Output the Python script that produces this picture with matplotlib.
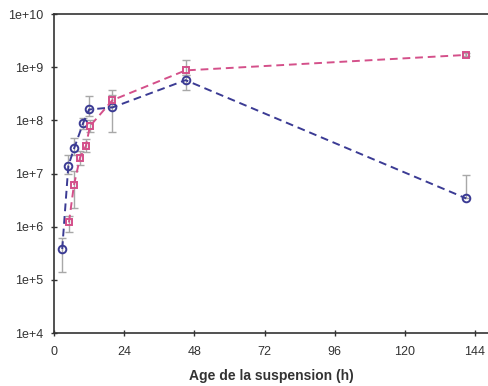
import matplotlib
matplotlib.use("Agg")
import matplotlib.pyplot as plt
import numpy as np
from matplotlib.ticker import FixedLocator, FuncFormatter

plt.rcParams["font.family"] = ["Liberation Sans", "DejaVu Sans"]

# Suspension age (h) and cell counts, two conditions
blue_t    = [2.8, 4.9, 6.9, 10.0, 12.0, 20.0, 45.0, 141.0]
blue_val  = [3.8e5, 1.4e7, 3.0e7, 9.0e7, 1.6e8, 1.75e8, 5.7e8, 3.4e6]
blue_lo   = [1.4e5, 1.0e7, 2.2e7, 7.0e7, 1.2e8, 6.0e7, 3.8e8, 3.4e6]
blue_hi   = [6.0e5, 2.2e7, 4.7e7, 1.1e8, 2.9e8, 3.8e8, 7.0e8, 9.4e6]

pink_t    = [5.1, 6.8, 8.9, 10.9, 12.3, 20.0, 45.0, 141.0]
pink_val  = [1.2e6, 6.0e6, 2.0e7, 3.3e7, 7.8e7, 2.4e8, 8.7e8, 1.7e9]
pink_lo   = [0.8e6, 2.2e6, 1.45e7, 2.5e7, 6.0e7, 1.9e8, 7.0e8, 1.6e9]
pink_hi   = [1.6e6, 1.1e7, 2.6e7, 4.5e7, 1.0e8, 3.0e8, 1.35e9, 1.85e9]

x_ticks = [0, 24, 48, 72, 96, 120, 144]
y_ticks = [1e4, 1e5, 1e6, 1e7, 1e8, 1e9, 1e10]

blue = "#3b3b94"
pink = "#d4508a"
grey = "#a8a8a8"

fig = plt.figure(figsize=(4.88, 3.86), dpi=100)
ax = fig.add_axes([0.1107, 0.1373, 0.889, 0.8264])

for t, v, lo, hi, color, marker, ms in [
    (blue_t, blue_val, blue_lo, blue_hi, blue, "o", 5.5),
    (pink_t, pink_val, pink_lo, pink_hi, pink, "s", 4.8),
]:
    v = np.array(v)
    yerr = [v - np.array(lo), np.array(hi) - v]
    ax.errorbar(t, v, yerr=yerr, fmt="none", ecolor=grey, elinewidth=1.0,
                capsize=3, capthick=1.0, zorder=1)
    ax.plot(t, v, linestyle=(0, (4, 2.5)), color=color, linewidth=1.4,
            marker=marker, markersize=ms, markerfacecolor="none",
            markeredgecolor=color, markeredgewidth=1.4, zorder=2)

ax.set_yscale("log")
ax.set_xlim(0, 148.4)
ax.set_ylim(1e4, 1e10)
ax.xaxis.set_major_locator(FixedLocator(x_ticks))
ax.yaxis.set_major_locator(FixedLocator(y_ticks))
ax.yaxis.set_minor_locator(FixedLocator([]))
ax.yaxis.set_major_formatter(FuncFormatter(lambda v, p: f"1e+{int(round(np.log10(v)))}"))

ax.spines["right"].set_visible(False)
for s in ["left", "bottom", "top"]:
    ax.spines[s].set_linewidth(1.2)
    ax.spines[s].set_color("#333333")
ax.tick_params(direction="inout", length=5, width=1, labelsize=9,
               colors="#333333")
ax.tick_params(axis="x", pad=7)
ax.tick_params(axis="y", pad=5)

ax.set_xlabel("Age de la suspension (h)", fontsize=10, fontweight="bold",
              color="#333333", labelpad=8)

fig.savefig("out.png", dpi=100)
